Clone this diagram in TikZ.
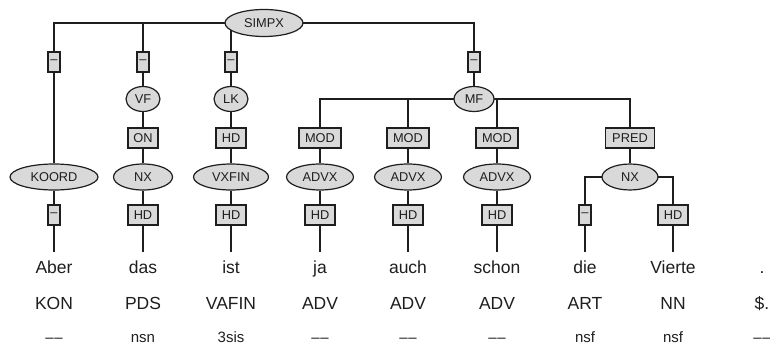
\documentclass[tikz,border=0pt]{standalone}
\usepackage{fontspec}
\setmainfont{Liberation Sans}
\usetikzlibrary{shapes.geometric,backgrounds}
\definecolor{ink}{RGB}{30,30,30}
\definecolor{boxfill}{RGB}{217,217,217}
\newcommand{\dd}{\textendash\kern0.8pt\textendash}
\begin{document}
\begin{tikzpicture}[x=1pt,y=-1pt,
  line width=1.2pt,
  cat/.style={ellipse,draw=ink,fill=boxfill,inner sep=0pt,text=ink,minimum height=26pt,font=\fontsize{12.8}{14}\selectfont},
  lab/.style={rectangle,draw=ink,fill=boxfill,inner sep=0pt,text=ink,minimum height=20pt,font=\fontsize{12.8}{14}\selectfont},
  dashlab/.style={lab,minimum width=12pt},
  hdlab/.style={lab,minimum width=30pt},
  wordtxt/.style={anchor=base,inner sep=0pt,inner ysep=7pt,text height=13pt,text depth=4pt,text=ink,font=\fontsize{17.5}{20}\selectfont},
  postag/.style={anchor=base,inner sep=0pt,text=ink,font=\fontsize{17.5}{20}\selectfont},
  morphtxt/.style={anchor=base,inner sep=0pt,text=ink,font=\fontsize{15}{17}\selectfont},
  conn/.style={draw=ink,line width=1.2pt}
]
\useasboundingbox (0,0) rectangle (770,345);

% top
\node[cat,minimum width=78pt,minimum height=27pt] (simpx) at (264,23) {SIMPX};
% row 1 edge labels
\node[dashlab] (e1) at (54,62) {\textendash};
\node[dashlab] (e2) at (143,62) {\textendash};
\node[dashlab] (e3) at (231,62) {\textendash};
\node[dashlab] (e4) at (474,62) {\textendash};
% fields
\node[cat,minimum width=34pt,minimum height=25pt] (vf) at (143,99) {VF};
\node[cat,minimum width=34pt,minimum height=25pt] (lk) at (231,99) {LK};
\node[cat,minimum width=40pt,minimum height=25pt] (mf) at (474,99) {MF};
% row 2 labels
\node[lab,minimum width=30pt] (on) at (143,138) {ON};
\node[hdlab] (hd3) at (231,138) {HD};
\node[lab,minimum width=42pt] (mod4) at (320,138) {MOD};
\node[lab,minimum width=42pt] (mod5) at (408,138) {MOD};
\node[lab,minimum width=42pt] (mod6) at (497,138) {MOD};
\node[lab,minimum width=49pt] (pred) at (630,138) {PRED};
% row 3 phrases
\node[cat,minimum width=88pt] (koord) at (54,177) {KOORD};
\node[cat,minimum width=59pt] (nx2) at (143,177) {NX};
\node[cat,minimum width=75pt] (vxfin) at (231,177) {VXFIN};
\node[cat,minimum width=67pt] (advx4) at (320,177) {ADVX};
\node[cat,minimum width=67pt] (advx5) at (408,177) {ADVX};
\node[cat,minimum width=67pt] (advx6) at (497,177) {ADVX};
\node[cat,minimum width=56pt] (nx7) at (630,177) {NX};
% row 4 labels
\node[dashlab] (f1) at (54,215) {\textendash};
\node[hdlab] (f2) at (143,215) {HD};
\node[hdlab] (f3) at (231,215) {HD};
\node[hdlab] (f4) at (320,215) {HD};
\node[hdlab] (f5) at (408,215) {HD};
\node[hdlab] (f6) at (497,215) {HD};
\node[dashlab] (f7) at (585,215) {\textendash};
\node[hdlab] (f8) at (673,215) {HD};
% words
\node[wordtxt] (w1) at (54,273) {Aber};
\node[wordtxt] (w2) at (143,273) {das};
\node[wordtxt] (w3) at (231,273) {ist};
\node[wordtxt] (w4) at (320,273) {ja};
\node[wordtxt] (w5) at (408,273) {auch};
\node[wordtxt] (w6) at (497,273) {schon};
\node[wordtxt] (w7) at (585,273) {die};
\node[wordtxt] (w8) at (673,273) {Vierte};
\node[wordtxt] (w9) at (762,273) {.};
% POS tags
\node[postag] (p1) at (54,309) {KON};
\node[postag] (p2) at (143,309) {PDS};
\node[postag] (p3) at (231,309) {VAFIN};
\node[postag] (p4) at (320,309) {ADV};
\node[postag] (p5) at (408,309) {ADV};
\node[postag] (p6) at (497,309) {ADV};
\node[postag] (p7) at (585,309) {ART};
\node[postag] (p8) at (673,309) {NN};
\node[postag] (p9) at (762,309) {\$.};
% morphology
\node[morphtxt] (m1) at (54,342) {\dd};
\node[morphtxt] (m2) at (143,342) {nsn};
\node[morphtxt] (m3) at (231,342) {3sis};
\node[morphtxt] (m4) at (320,342) {\dd};
\node[morphtxt] (m5) at (408,342) {\dd};
\node[morphtxt] (m6) at (497,342) {\dd};
\node[morphtxt] (m7) at (585,342) {nsf};
\node[morphtxt] (m8) at (673,342) {nsf};
\node[morphtxt] (m9) at (762,342) {\dd};

\begin{pgfonlayer}{background}
  \path[conn] (simpx.center) -| (e1.north);
  \path[conn] (simpx.center) -| (e2.north);
  \path[conn] (simpx.center) -| (e3.north);
  \path[conn] (simpx.center) -| (e4.north);
  \path[conn] (e1) -- (koord) -- (f1) -- (w1);
  \path[conn] (e2) -- (vf) -- (on) -- (nx2) -- (f2) -- (w2);
  \path[conn] (e3) -- (lk) -- (hd3) -- (vxfin) -- (f3) -- (w3);
  \path[conn] (e4) -- (mf);
  \path[conn] (mf.center) -| (mod4.north);
  \path[conn] (mf.center) -| (mod5.north);
  \path[conn] (mf.center) -| (mod6.north);
  \path[conn] (mf.center) -| (pred.north);
  \path[conn] (mod4) -- (advx4) -- (f4) -- (w4);
  \path[conn] (mod5) -- (advx5) -- (f5) -- (w5);
  \path[conn] (mod6) -- (advx6) -- (f6) -- (w6);
  \path[conn] (pred) -- (nx7);
  \path[conn] (nx7.center) -| (f7.north);
  \path[conn] (nx7.center) -| (f8.north);
  \path[conn] (f7) -- (w7);
  \path[conn] (f8) -- (w8);
\end{pgfonlayer}
\end{tikzpicture}
\end{document}
